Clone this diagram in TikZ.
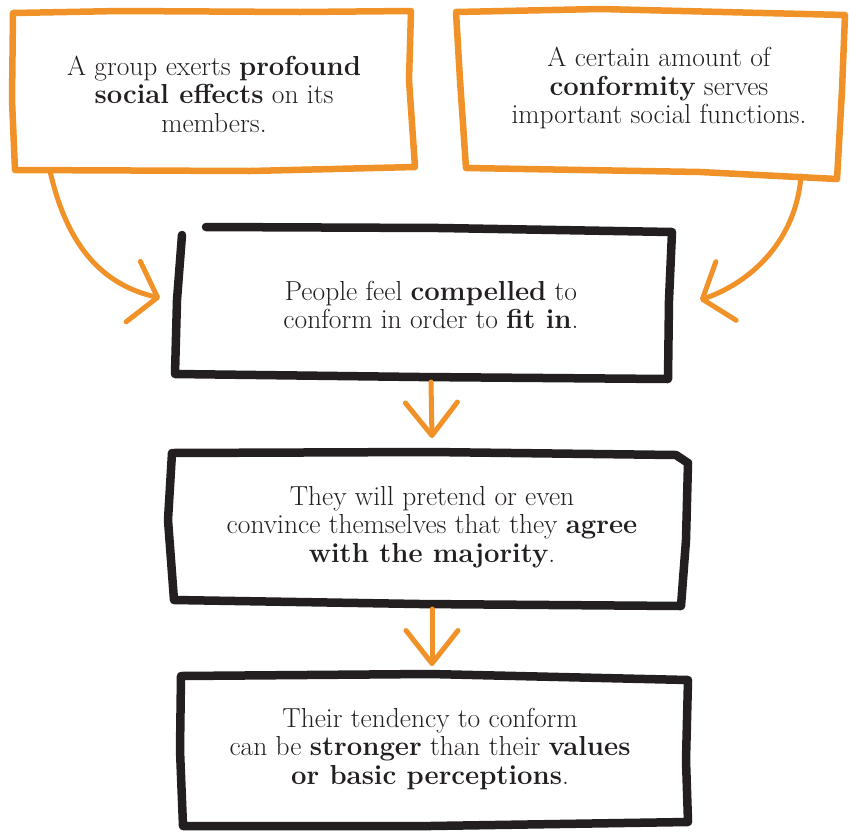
\documentclass[tikz,border=0pt]{standalone}
\usetikzlibrary{arrows.meta}
\definecolor{sketchorange}{RGB}{240,146,40}
\definecolor{sketchblack}{RGB}{35,31,32}

\begin{document}
\begin{tikzpicture}[x=1pt,y=-1pt,
  orangeframe/.style={draw=sketchorange,line width=6.5pt,line join=round,line cap=round},
  blackframe/.style={draw=sketchblack,line width=8.5pt,line join=round,line cap=round},
  flowarrow/.style={draw=sketchorange,line width=5pt,line cap=round,-{Straight Barb[length=33pt,width=52pt,round]}},
  curvearrow/.style={draw=sketchorange,line width=5pt,line cap=round,-{Straight Barb[length=25pt,width=62pt,round]}},
  boxtext/.style={align=center,inner sep=0pt,text=sketchblack,font=\fontsize{27.5}{28.5}\selectfont}]
\useasboundingbox (0,0) rectangle (849,831);
% top frames
\draw[orangeframe] (13,13) -- (120,11) -- (300,12) -- (411,11) -- (409,80) -- (415,167) -- (250,171) -- (15,170) -- (12,100) -- cycle;
\draw[orangeframe] (456,12) -- (600,9) -- (845,15) -- (842,90) -- (837,179) -- (700,172) -- (466,168) -- (460,80) -- cycle;
% black frames
\draw[blackframe] (206,227) -- (440,228) -- (672,232) -- (669,300) -- (668,379) -- (420,377) -- (175,374) -- (177,300) -- (182,235);
\draw[blackframe] (172,453) -- (430,452) -- (676,455) -- (688,463) -- (686,540) -- (681,606) -- (420,604) -- (174,600) -- (168,520) -- cycle;
\draw[blackframe] (181,676) -- (430,674) -- (688,680) -- (686,760) -- (688,822) -- (430,826) -- (183,826) -- (180,750) -- cycle;
% texts
\node[boxtext] (effects) at (214,94) {A group exerts \textbf{profound}\\\textbf{social effects} on its\\members.};
\node[boxtext] (functions) at (659,88) {A certain amount of\\\textbf{conformity} serves\\important social functions.};
\node[boxtext] (compelled) at (431,305) {People feel \textbf{compelled} to\\conform in order to \textbf{fit in}.};
\node[boxtext] (agree) at (432,527) {They will pretend or even\\convince themselves that they \textbf{agree}\\\textbf{with the majority}.};
\node[boxtext] (stronger) at (430,749) {Their tendency to conform\\can be \textbf{stronger} than their \textbf{values}\\\textbf{or basic perceptions}.};
% arrows
\coordinate (effects-out) at (50,171);
\coordinate (compelled-left) at (160,298);
\coordinate (functions-out) at (801,176);
\coordinate (compelled-right) at (700,300);
\coordinate (compelled-out) at (431,382);
\coordinate (agree-in) at (432,438);
\coordinate (agree-out) at (432,609);
\coordinate (stronger-in) at (432,666);
\draw[curvearrow] (effects-out) .. controls (68,250) and (105,285) .. (compelled-left);
\draw[curvearrow] (functions-out) .. controls (796,240) and (752,282) .. (compelled-right);
\draw[flowarrow] (compelled-out) -- (agree-in);
\draw[flowarrow] (agree-out) -- (stronger-in);
\end{tikzpicture}
\end{document}
